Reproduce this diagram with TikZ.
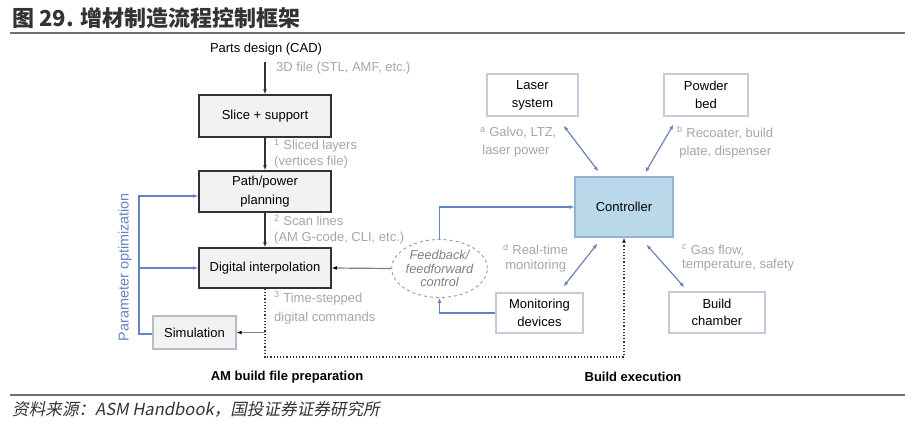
\documentclass[tikz,border=0pt]{standalone}
\usepackage{fontspec}
\setmainfont{Liberation Sans}
\newfontfamily\cjk{Noto Sans CJK SC}
\newfontfamily\cjksl[FakeSlant=0.2]{Noto Sans CJK SC}
\usetikzlibrary{arrows.meta,shapes.geometric}
\definecolor{lblgray}{HTML}{A6A6A6}
\definecolor{bluel}{HTML}{6384C2}
\definecolor{dblb}{HTML}{6D82B5}
\definecolor{ctrlfill}{HTML}{BAD8EA}
\definecolor{ctrlbd}{HTML}{8FB3D0}
\definecolor{lbox}{HTML}{C4CBDD}
\definecolor{gbox}{HTML}{F2F2F2}
\definecolor{darkbd}{HTML}{333333}
\definecolor{rulegray}{HTML}{707070}
\begin{document}
\begin{tikzpicture}[x=1pt,y=-1pt,
  txt/.style={font=\fontsize{13}{18}\selectfont, text=black, inner sep=0pt},
  mainbox/.style={txt, draw=darkbd, line width=1.5pt, fill=gbox, align=center},
  lightbox/.style={txt, draw=lbox, line width=1.2pt, fill=white, align=center},
  lbl/.style={font=\fontsize{13}{16}\selectfont, text=lblgray, inner sep=0pt, align=left, anchor=west},
  blk/.style={draw=darkbd, line width=1.2pt, -{Latex[length=5pt,width=4pt]}},
  gln/.style={draw=gray, line width=1.2pt, -{Latex[length=5pt,width=4pt,color=black]}},
  bln/.style={draw=bluel, line width=1.2pt, -{Latex[length=5pt,width=4pt]}},
  dbl/.style={draw=dblb, line width=1.2pt, {Latex[length=5pt,width=4pt]}-{Latex[length=5pt,width=4pt]}},
  bold/.style={font=\fontsize{13}{15}\selectfont\bfseries, inner sep=0pt}
]
\useasboundingbox (0,0) rectangle (912,423);
% title and rules
\node[anchor=west, inner sep=0pt, text=darkbd] (title) at (12,18) {\cjk\bfseries\fontsize{22}{24}\selectfont 图 29. 增材制造流程控制框架};
\draw[rulegray, line width=2pt] (10,33) -- (905,33);
\draw[rulegray, line width=2pt] (10,395) -- (905,395);
\node[anchor=west, inner sep=0pt, text=darkbd] (src) at (12,409) {\cjksl\fontsize{16.6}{18}\selectfont 资料来源：ASM Handbook，国投证券证券研究所};

% left column
\node[txt] (cad) at (266,49) {Parts design (CAD)};
\node[mainbox, minimum width=132, minimum height=42] (slice) at (265,116) {Slice + support};
\node[mainbox, minimum width=132, minimum height=41, font=\fontsize{13}{19}\selectfont] (path) at (265,191.5) {Path/power\\planning};
\node[mainbox, minimum width=132, minimum height=40] (dig) at (265,268) {Digital interpolation};
\node[txt, draw=lbox!80!gray, line width=1.2pt, fill=gbox, minimum width=83, minimum height=33] (sim) at (194.5,332.5) {Simulation};

\node[lbl] (l0) at (276,68) {3D file (STL, AMF, etc.)};
\node[lbl] (l1) at (274,154) {\textsuperscript{1} Sliced layers\\(vertices file)};
\node[lbl] (l2) at (274,229.5) {\textsuperscript{2} Scan lines\\(AM G-code, CLI, etc.)};
\node[lbl, font=\fontsize{13}{19}\selectfont] (l3) at (274,307.5) {\textsuperscript{3} Time-stepped\\digital commands};

\node[txt, font=\fontsize{14.4}{16}\selectfont, text=bluel, rotate=90] (popt) at (125,267) {Parameter optimization};

\coordinate (cadbot) at (0,62);
\draw[blk] (slice.north |- cadbot) -- (slice.north);
\draw[blk] (slice) -- (path);
\draw[blk] (path) -- (dig);

% right part
\node[txt, draw=ctrlbd, line width=1.2pt, fill=ctrlfill, minimum width=98, minimum height=60] (ctrl) at (624,207) {Controller};
\node[lightbox, minimum width=91, minimum height=42] (laser) at (532.5,95) {Laser\\system};
\node[lightbox, minimum width=84, minimum height=42] (powder) at (706,95) {Powder\\bed};
\node[lightbox, minimum width=87, minimum height=40, font=\fontsize{13}{17.5}\selectfont] (mon) at (539.5,313) {Monitoring\\devices};
\node[lightbox, minimum width=96, minimum height=41, font=\fontsize{13}{17.5}\selectfont] (build) at (717,312.5) {Build\\chamber};
\node[ellipse, draw=gray!80, dashed, line width=0.9pt, minimum width=95, minimum height=58, inner sep=0pt,
      font=\fontsize{12.8}{13.5}\selectfont\itshape, text=gray, align=center] (fb) at (439.5,268.5) {Feedback/\\feedforward\\control};

\node[lbl, font=\fontsize{13}{18}\selectfont] (la) at (480,142) {\textsuperscript{a} Galvo, LTZ,\\\,laser power};
\node[lbl, font=\fontsize{13}{18}\selectfont] (lb) at (677,142) {\textsuperscript{b} Recoater, build\\\,plate, dispenser};
\node[lbl, font=\fontsize{13}{14.5}\selectfont] (ld) at (503,258) {\textsuperscript{d} Real-time\\\,monitoring};
\node[lbl, font=\fontsize{13}{14.5}\selectfont] (lc) at (682,258) {\textsuperscript{c} Gas flow,\\temperature, safety};

\node[bold] (secA) at (287,377) {AM build file preparation};
\node[bold] (secB) at (633,377) {Build execution};

% connectors
\draw[dbl] ([shift={(-15,9)}]laser.south east) -- ([shift={(24,-5)}]ctrl.north west);
\draw[dbl] ([shift={(10,8)}]powder.south west) -- ([shift={(71,-4)}]ctrl.north west);
\draw[dbl] ([shift={(23,6)}]ctrl.south west) -- ([shift={(-20,-6)}]mon.north east);
\draw[dbl] ([shift={(72,7)}]ctrl.south west) -- ([shift={(16,-4)}]build.north west);

\coordinate (bot) at (0,357);
\draw[draw=darkbd, line width=1.2pt, dotted, -{Latex[length=5pt,width=4pt]}] (dig.south) -- (dig.south |- bot) -| (ctrl.south);
\draw[gln] (dig.south |- sim.east) -- (sim.east);
\draw[gln] (fb.west) -- (dig.east);
\draw[bln] (fb.north) |- (ctrl.west);
\draw[bln] (mon.west) -| (fb.south);

\coordinate (pb) at (139,334);
\coordinate (pt) at (139,196);
\draw[bln] (sim.west |- pb) -- (pb) -- (pt) -- (pt -| path.west);
\draw[bln] (pb |- dig.west) -- (dig.west);
\end{tikzpicture}
\end{document}
